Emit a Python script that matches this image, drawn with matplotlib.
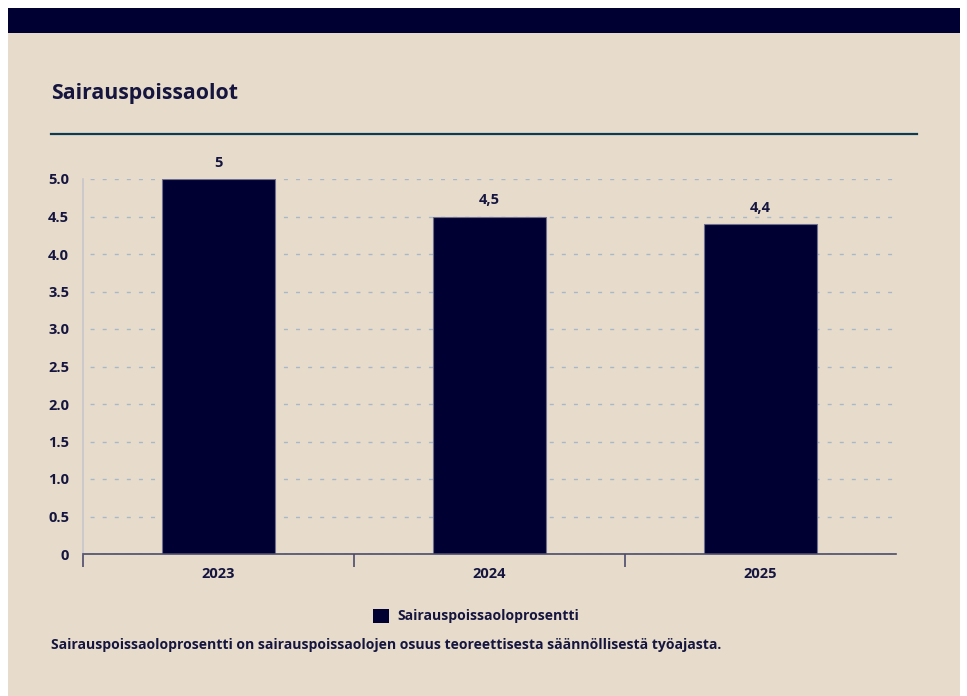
import matplotlib
matplotlib.use("Agg")
import matplotlib.pyplot as plt
from matplotlib.patches import Rectangle
from matplotlib.lines import Line2D

# Data
years = ["2023", "2024", "2025"]
sick_leave_pct = [5.0, 4.5, 4.4]
value_labels = ["5", "4,5", "4,4"]
y_ticks = [0, 0.5, 1.0, 1.5, 2.0, 2.5, 3.0, 3.5, 4.0, 4.5, 5.0]
y_tick_labels = ["0", "0.5", "1.0", "1.5", "2.0", "2.5", "3.0", "3.5", "4.0", "4.5", "5.0"]

title = "Sairauspoissaolot"
series_name = "Sairauspoissaoloprosentti"
footnote = ("Sairauspoissaoloprosentti on sairauspoissaolojen osuus "
            "teoreettisesta säännöllisestä työajasta.")

# Styling
BG = "#e7dccb"
NAVY = "#000033"
TEXT = "#15153f"
FONT = ["Open Sans", "DejaVu Sans"]
plt.rcParams["font.family"] = FONT
plt.rcParams["font.weight"] = "bold"

W, H = 967, 696
fig = plt.figure(figsize=(W / 100, H / 100), dpi=100)
fig.patch.set_facecolor("white")


def fx(px):
    return px / W


def fy(py):
    return 1 - py / H


# Panel background and top band
fig.add_artist(Rectangle((fx(8), fy(696)), fx(960) - fx(8), fy(8) - fy(696),
                         transform=fig.transFigure, facecolor=BG, edgecolor="none", zorder=0))
fig.add_artist(Rectangle((fx(8), fy(33)), fx(960) - fx(8), fy(8) - fy(33),
                         transform=fig.transFigure, facecolor=NAVY, edgecolor="none", zorder=1))

# Title and divider
fig.text(fx(51), fy(93), title, fontsize=15.3, fontweight="bold", color=TEXT,
         ha="left", va="center")
fig.add_artist(Line2D([fx(51), fx(917)], [fy(134), fy(134)], transform=fig.transFigure,
                      color="#0e3a52", linewidth=1.6))

# Chart
ax = fig.add_axes([fx(83), fy(554), fx(896) - fx(83), fy(179) - fy(554)])
ax.set_facecolor("none")
x = list(range(len(years)))
bars = ax.bar(x, sick_leave_pct, width=0.42, color=NAVY, edgecolor="#6e6e8e",
              linewidth=0.8, zorder=3, label=series_name)
for xi, v, lab in zip(x, sick_leave_pct, value_labels):
    ax.annotate(lab, (xi, v), xytext=(0, 6.5), textcoords="offset points",
                ha="center", va="bottom", fontsize=10.5, fontweight="bold",
                color=TEXT, annotation_clip=False)

ax.set_xlim(-0.5, 2.5)
ax.set_ylim(0, 5.0)
ax.set_yticks(y_ticks)
ax.set_yticklabels(y_tick_labels, fontsize=10.5, fontweight="bold", color=TEXT)
ax.tick_params(axis="y", length=0, pad=10)
ax.set_xticks(x)
ax.set_xticklabels(years, fontsize=10.5, fontweight="bold", color=TEXT)
ax.tick_params(axis="x", which="major", length=0, pad=9)
ax.set_xticks([-0.5, 0.5, 1.5], minor=True)
ax.tick_params(axis="x", which="minor", length=9, width=1.2, color="#4b4b6b")

ax.grid(axis="y", color="#a9b8c8", linewidth=1.0, linestyle=(3.6, (2.9, 5.8)), zorder=0)
ax.set_axisbelow(True)
for s in ("top", "right"):
    ax.spines[s].set_visible(False)
ax.spines["left"].set_color("#c6c6cc")
ax.spines["left"].set_linewidth(1.2)
ax.spines["bottom"].set_color("#4b4b6b")
ax.spines["bottom"].set_linewidth(1.2)
ax.spines["bottom"].set_zorder(4)

# Legend
leg = fig.legend(handles=[Rectangle((0, 0), 1, 1, facecolor=NAVY, edgecolor="none")],
                 labels=[series_name], loc="center", bbox_to_anchor=(fx(476), fy(616)),
                 frameon=False, fontsize=10.1, handlelength=1.2, handleheight=1.2,
                 handletextpad=0.6)
for t in leg.get_texts():
    t.set_color(TEXT)
    t.set_fontweight("bold")

# Footnote
fig.text(fx(51), fy(645), footnote, fontsize=10.1, fontweight="bold", color=TEXT,
         ha="left", va="center")

fig.savefig("out.png", dpi=100, facecolor=fig.get_facecolor())
